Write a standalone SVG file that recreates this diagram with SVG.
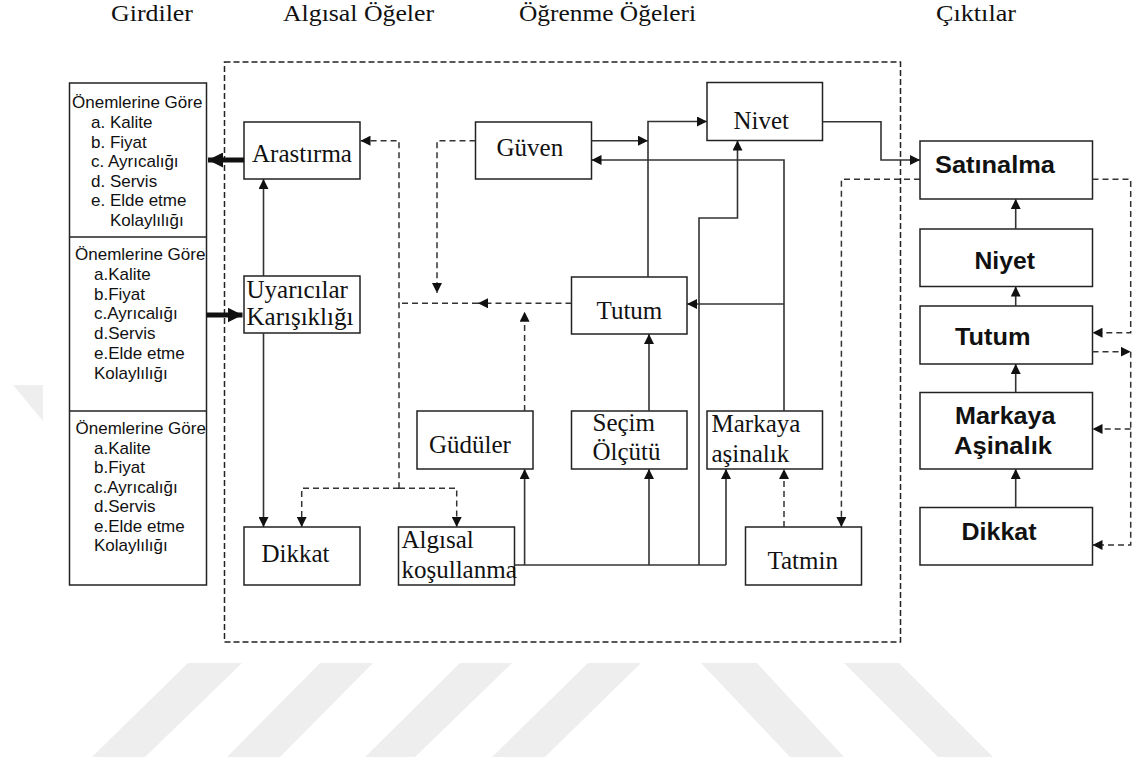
<svg xmlns="http://www.w3.org/2000/svg" width="1136" height="762" viewBox="0 0 1136 762">
<style>
.box{fill:#fff;stroke:#222;stroke-width:1.5}
.ln{fill:none;stroke:#333;stroke-width:1.6}
.ds{fill:none;stroke:#333;stroke-width:1.5;stroke-dasharray:6 4}
.thick{fill:none;stroke:#111;stroke-width:5}
.frame{fill:none;stroke:#222;stroke-width:1.5;stroke-dasharray:6 3}
.wm{fill:#eeeeee}
.tm{font-family:"Liberation Serif","Times New Roman",serif;font-size:25px;fill:#111}
.hd{font-family:"Liberation Serif","Times New Roman",serif;font-size:24px;fill:#111}
.ar{font-family:"Liberation Sans",Arial,sans-serif;font-size:17px;fill:#111}
.bd{font-family:"Liberation Sans",Arial,sans-serif;font-size:23px;font-weight:bold;fill:#111}
</style>
<defs>
<marker id="ah" viewBox="0 0 10 10" refX="10" refY="5" markerWidth="10" markerHeight="10" markerUnits="userSpaceOnUse" orient="auto"><path d="M0,0 L10,5 L0,10 z" fill="#111"/></marker>
<marker id="ahb" viewBox="0 0 10 10" refX="10" refY="5" markerWidth="15" markerHeight="15" markerUnits="userSpaceOnUse" orient="auto"><path d="M0,0 L10,5 L0,10 z" fill="#111"/></marker>
</defs>
<rect width="1136" height="762" fill="#fff"/>

<g id="watermark">
<polygon class="wm" points="188,663 242,663 145,757 92,757"/>
<polygon class="wm" points="320,663 373,663 280,757 227,757"/>
<polygon class="wm" points="460,663 512,663 415,757 365,757"/>
<polygon class="wm" points="588,663 641,663 545,757 492,757"/>
<polygon class="wm" points="701,663 757,663 844,757 790,757"/>
<polygon class="wm" points="844,663 899,663 993,757 938,757"/>
<polygon class="wm" points="13,385 43,385 43,421"/>
</g>

<g id="headers">
<text class="hd" x="111" y="21" textLength="82" lengthAdjust="spacingAndGlyphs">Girdiler</text>
<text class="hd" x="283" y="21" textLength="151" lengthAdjust="spacingAndGlyphs">Algısal Öğeler</text>
<text class="hd" x="519" y="21" textLength="177" lengthAdjust="spacingAndGlyphs">Öğrenme Öğeleri</text>
<text class="hd" x="936" y="21" textLength="80" lengthAdjust="spacingAndGlyphs">Çıktılar</text>
</g>

<rect id="frame" class="frame" x="224.5" y="62" width="676" height="580"/>

<g id="girdiler">
<rect class="box" x="69.5" y="83" width="137" height="502"/>
<line x1="69.5" y1="237" x2="206.5" y2="237" stroke="#222" stroke-width="1.5"/>
<line x1="69.5" y1="411" x2="206.5" y2="411" stroke="#222" stroke-width="1.5"/>
<text class="ar" x="72" y="108">Önemlerine Göre</text>
<text class="ar" x="91" y="128">a. Kalite</text>
<text class="ar" x="91" y="147.5">b. Fiyat</text>
<text class="ar" x="91" y="167">c. Ayrıcalığı</text>
<text class="ar" x="91" y="186.5">d. Servis</text>
<text class="ar" x="91" y="206">e. Elde etme</text>
<text class="ar" x="110" y="225.5">Kolaylılığı</text>
<text class="ar" x="75" y="260">Önemlerine Göre</text>
<text class="ar" x="94" y="279.8">a.Kalite</text>
<text class="ar" x="94" y="299.6">b.Fiyat</text>
<text class="ar" x="94" y="319.4">c.Ayrıcalığı</text>
<text class="ar" x="94" y="339.2">d.Servis</text>
<text class="ar" x="94" y="359">e.Elde etme</text>
<text class="ar" x="94" y="378.8">Kolaylılığı</text>
<text class="ar" x="75.5" y="434">Önemlerine Göre</text>
<text class="ar" x="94" y="453.5">a.Kalite</text>
<text class="ar" x="94" y="473">b.Fiyat</text>
<text class="ar" x="94" y="492.5">c.Ayrıcalığı</text>
<text class="ar" x="94" y="512">d.Servis</text>
<text class="ar" x="94" y="531.5">e.Elde etme</text>
<text class="ar" x="94" y="551">Kolaylılığı</text>
</g>

<g id="arastirma"><rect class="box" x="244" y="122" width="116" height="57"/><text class="tm" x="252" y="161.5">Arastırma</text></g>
<g id="uyaricilar"><rect class="box" x="244" y="276" width="116" height="57"/><text class="tm" x="246.5" y="298">Uyarıcılar</text><text class="tm" x="246.5" y="325">Karışıklığı</text></g>
<g id="dikkat1"><rect class="box" x="244" y="527" width="116" height="58"/><text class="tm" x="261.5" y="561.5">Dikkat</text></g>
<g id="algisal"><rect class="box" x="398.5" y="527" width="116" height="58"/><text class="tm" x="401.5" y="547.5">Algısal</text><text class="tm" x="401.5" y="577.5">koşullanma</text></g>
<g id="guven"><rect class="box" x="475.5" y="122" width="116" height="57"/><text class="tm" x="496.5" y="155.5">Güven</text></g>
<g id="nivet"><rect class="box" x="707" y="82.5" width="115.5" height="58"/><text class="tm" x="733.5" y="128.5">Nivet</text></g>
<g id="tutum1"><rect class="box" x="571.5" y="277" width="115.5" height="57"/><text class="tm" x="596.5" y="318.5">Tutum</text></g>
<g id="guduler"><rect class="box" x="417" y="411" width="116" height="58"/><text class="tm" x="429" y="452.5">Güdüler</text></g>
<g id="secim"><rect class="box" x="571.5" y="411" width="115.5" height="58"/><text class="tm" x="592.5" y="431">Seçim</text><text class="tm" x="592.5" y="460">Ölçütü</text></g>
<g id="markaya1"><rect class="box" x="707" y="411" width="115.5" height="58"/><text class="tm" x="711.5" y="431.5">Markaya</text><text class="tm" x="711.5" y="462">aşinalık</text></g>
<g id="tatmin"><rect class="box" x="745.5" y="527" width="116" height="58"/><text class="tm" x="767.5" y="568.5">Tatmin</text></g>

<g id="satinalma"><rect class="box" x="920" y="141" width="172.5" height="58"/><text class="bd" x="935" y="172.5" textLength="120" lengthAdjust="spacingAndGlyphs">Satınalma</text></g>
<g id="niyet2"><rect class="box" x="920" y="229" width="172.5" height="57.5"/><text class="bd" x="974.5" y="268.5" textLength="60.5" lengthAdjust="spacingAndGlyphs">Niyet</text></g>
<g id="tutum2"><rect class="box" x="920" y="306" width="172.5" height="58"/><text class="bd" x="955" y="345" textLength="75.5" lengthAdjust="spacingAndGlyphs">Tutum</text></g>
<g id="markaya2"><rect class="box" x="920" y="392.5" width="172.5" height="76.5"/><text class="bd" x="955" y="423.5" textLength="100.5" lengthAdjust="spacingAndGlyphs">Markaya</text><text class="bd" x="954" y="453.5" textLength="98" lengthAdjust="spacingAndGlyphs">Aşinalık</text></g>
<g id="dikkat2"><rect class="box" x="920" y="507.5" width="172.5" height="57.5"/><text class="bd" x="961.5" y="539.5" textLength="75" lengthAdjust="spacingAndGlyphs">Dikkat</text></g>

<g id="connectors">
<path class="thick" d="M244,160 H208" marker-end="url(#ahb)"/>
<path class="thick" d="M206.5,315 H242.5" marker-end="url(#ahb)"/>
<path class="ln" d="M263.5,276 V179" marker-end="url(#ah)"/>
<path class="ln" d="M263.5,333 V527" marker-end="url(#ah)"/>
<path class="ln" d="M591.5,140.7 H648" marker-end="url(#ah)"/>
<path class="ln" d="M648,277 V121.5 H707" marker-end="url(#ah)"/>
<path class="ln" d="M784,411 V160 H591.5" marker-end="url(#ah)"/>
<path class="ln" d="M784,304 H687" marker-end="url(#ah)"/>
<path class="ln" d="M514.5,565 H726"/>
<path class="ln" d="M524.6,565 V469" marker-end="url(#ah)"/>
<path class="ln" d="M649,565 V469" marker-end="url(#ah)"/>
<path class="ln" d="M726,565 V469" marker-end="url(#ah)"/>
<path class="ln" d="M699,565 V218 H737.5 V140.5" marker-end="url(#ah)"/>
<path class="ln" d="M649,411 V334" marker-end="url(#ah)"/>
<path class="ln" d="M822.5,121.7 H881 V160 H920" marker-end="url(#ah)"/>
<path class="ln" d="M1015.7,229 V199" marker-end="url(#ah)"/>
<path class="ln" d="M1015.7,306 V286.5" marker-end="url(#ah)"/>
<path class="ln" d="M1015.7,392.5 V364" marker-end="url(#ah)"/>
<path class="ln" d="M1015.7,507.5 V469" marker-end="url(#ah)"/>

<path class="ds" d="M475.5,140.7 H437 V293" marker-end="url(#ah)"/>
<path class="ds" d="M571.5,303.3 H478" marker-end="url(#ah)"/>
<path class="ds" d="M478,303.3 H399"/>
<path class="ds" d="M399,488.3 V140.7 H360.5" marker-end="url(#ah)"/>
<path class="ds" d="M399,488.3 H301.7 V527" marker-end="url(#ah)"/>
<path class="ds" d="M399,488.3 H456.7 V527" marker-end="url(#ah)"/>
<path class="ds" d="M524.6,411 V311.7" marker-end="url(#ah)"/>
<path class="ds" d="M784,527 V469" marker-end="url(#ah)"/>
<path class="ds" d="M920,179.3 H841.4 V527" marker-end="url(#ah)"/>
<path class="ds" d="M1092.5,179.3 H1130.7 V332.7 H1092.5" marker-end="url(#ah)"/>
<path class="ds" d="M1092.5,351.7 H1130.7" marker-end="url(#ah)"/>
<path class="ds" d="M1130.7,351.7 V545 H1092.5" marker-end="url(#ah)"/>
<path class="ds" d="M1130.7,429 H1092.5" marker-end="url(#ah)"/>
</g>
</svg>
